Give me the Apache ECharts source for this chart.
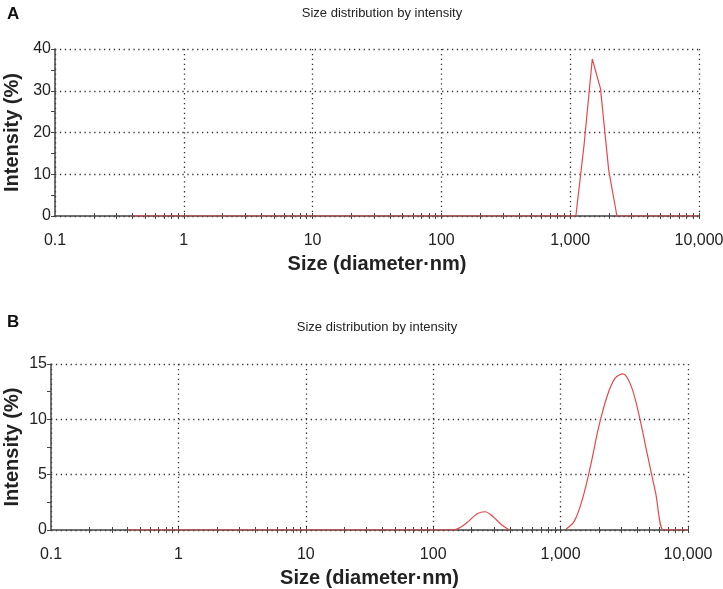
<!DOCTYPE html>
<html>
<head>
<meta charset="utf-8">
<script src="https://cdn.jsdelivr.net/npm/echarts@6/dist/echarts.min.js"></script>
<style>html,body{margin:0;padding:0;background:#fff}#c{width:723px;height:589px}</style>
</head>
<body>
<div id="c"></div>
<script>
// Size bins (nm), log-spaced as in the instrument output
const sizeBins = [0.4,0.4632,0.5365,0.6213,0.7195,0.8332,0.9649,1.117,1.294,1.499,1.736,2.01,2.328,2.696,3.122,3.615,4.187,4.849,5.615,6.503,7.531,8.721,10.1,11.7,13.54,15.69,18.17,21.04,24.36,28.21,32.67,37.84,43.82,50.75,58.77,68.06,78.82,91.28,105.7,122.4,141.8,164.2,190.1,220.2,255.0,295.3,342.0,396.1,458.7,531.2,615.1,712.4,825.0,955.4,1106,1281,1484,1718,1990,2305,2669,3091,3580,4145,4801,5560,6439,7456,8635,10000];
// Panel A intensity (%)
const intensityA = [0,0,0,0,0,0,0,0,0,0, 0,0,0,0,0,0,0,0,0,0, 0,0,0,0,0,0,0,0,0,0, 0,0,0,0,0,0,0,0,0,0, 0,0,0,0,0,0,0,0,0,0, 0,0,0,0,0,17,37.6,30.5,11,0, 0,0,0,0,0,0,0,0,0,0];
// Panel B intensity (%)
const intensityB = [0,0,0,0,0,0,0,0,0,0, 0,0,0,0,0,0,0,0,0,0, 0,0,0,0,0,0,0,0,0,0, 0,0,0,0,0,0,0,0,0,0, 0,0.25,0.8,1.45,1.65,1.2,0.5,0,null,null, null,null,null,null,0.1,0.8,2.8,5.8,9.3,12.0, 13.7,14.1,13.0,10.3,6.8,3.4,0,0,0,0];
const minorTickValues = [0.2,0.3,0.4,0.5,0.6,0.7,0.8,0.9,1,2,3,4,5,6,7,8,9,10,20,30,40,50,60,70,80,90,100,200,300,400,500,600,700,800,900,1000,2000,3000,4000,5000,6000,7000,8000,9000,10000];
const titleText = 'Size distribution by intensity';
const xName = 'Size (diameter\u00b7nm)';
const yName = 'Intensity (%)';

const FONT = 'Liberation Sans, Arial, sans-serif';
const RED = '#e8474c';
const AXIS = '#444';
const grids = [
  {left: 55, right: 24, top: 49, height: 167, containLabel: false, outerBoundsMode: 'none'},
  {left: 51, right: 35, top: 364, height: 166, containLabel: false, outerBoundsMode: 'none'}
];
const yMax = [40, 15], yInt = [10, 5];
const dot = {color: '#333', width: 1.3, type: [1.3, 3.6]};

const xAxes = [], yAxes = [], series = [];
[0, 1].forEach(i => {
  xAxes.push({
    type: 'log', logBase: 10, min: 0.1, max: 10000, gridIndex: i,
    axisLine: {lineStyle: {color: AXIS, width: 1.5}},
    axisTick: {show: false},
    splitLine: {show: true, lineStyle: dot},
    axisLabel: {fontFamily: FONT, fontSize: 16, color: '#222', margin: 17,
      formatter: v => Number(v).toLocaleString('en-US', {maximumFractionDigits: 1})},
    name: xName, nameLocation: 'middle', nameGap: 38, nameMoveOverlap: false,
    nameTextStyle: {fontFamily: FONT, fontSize: 20, fontWeight: 'bold', color: '#222'}
  });
  [false, true].forEach(inside => {
    xAxes.push({
      type: 'log', logBase: 10, min: 0.1, max: 10000, gridIndex: i, position: 'bottom',
      axisLine: {show: false}, axisLabel: {show: false}, splitLine: {show: false},
      axisTick: {show: true, inside: inside, length: 3, customValues: minorTickValues,
        lineStyle: {color: AXIS, width: 1}}
    });
  });
  yAxes.push({
    type: 'value', min: 0, max: yMax[i], interval: yInt[i], gridIndex: i,
    axisLine: {show: true, lineStyle: {color: AXIS, width: 1.5}},
    axisTick: {show: true, length: 4, lineStyle: {color: AXIS}},
    minorTick: {show: true, splitNumber: 2, length: 4, lineStyle: {color: AXIS}},
    splitLine: {show: true, lineStyle: dot},
    axisLabel: {fontFamily: FONT, fontSize: 16, color: '#222', margin: 4},
    name: yName, nameLocation: 'middle', nameGap: i === 0 ? 33 : 29, nameMoveOverlap: false,
    nameTextStyle: {fontFamily: FONT, fontSize: 20, fontWeight: 'bold', color: '#222'}
  });
  const vals = i === 0 ? intensityA : intensityB;
  series.push({
    type: 'line', xAxisIndex: i * 3, yAxisIndex: i,
    data: sizeBins.map((s, k) => [s, vals[k]]),
    showSymbol: false, smooth: i === 1 ? 0.35 : false, connectNulls: false,
    lineStyle: {color: RED, width: 1.2}, silent: true, z: 5
  });
});

const chart = echarts.init(document.getElementById('c'), null, {renderer: 'canvas'});
chart.setOption({
  animation: false,
  backgroundColor: '#fff',
  grid: grids,
  xAxis: xAxes,
  yAxis: yAxes,
  series: series,
  title: [
    {text: 'A', left: 2, top: 1, textStyle: {fontFamily: FONT, fontSize: 17, fontWeight: 'bold', color: '#111'}},
    {text: titleText, left: 377, top: 2, textAlign: 'center', textStyle: {fontFamily: FONT, fontSize: 13, fontWeight: 'normal', color: '#222'}},
    {text: 'B', left: 2, top: 309, textStyle: {fontFamily: FONT, fontSize: 17, fontWeight: 'bold', color: '#111'}},
    {text: titleText, left: 372, top: 316, textAlign: 'center', textStyle: {fontFamily: FONT, fontSize: 13, fontWeight: 'normal', color: '#222'}}
  ]
});
</script>
</body>
</html>
